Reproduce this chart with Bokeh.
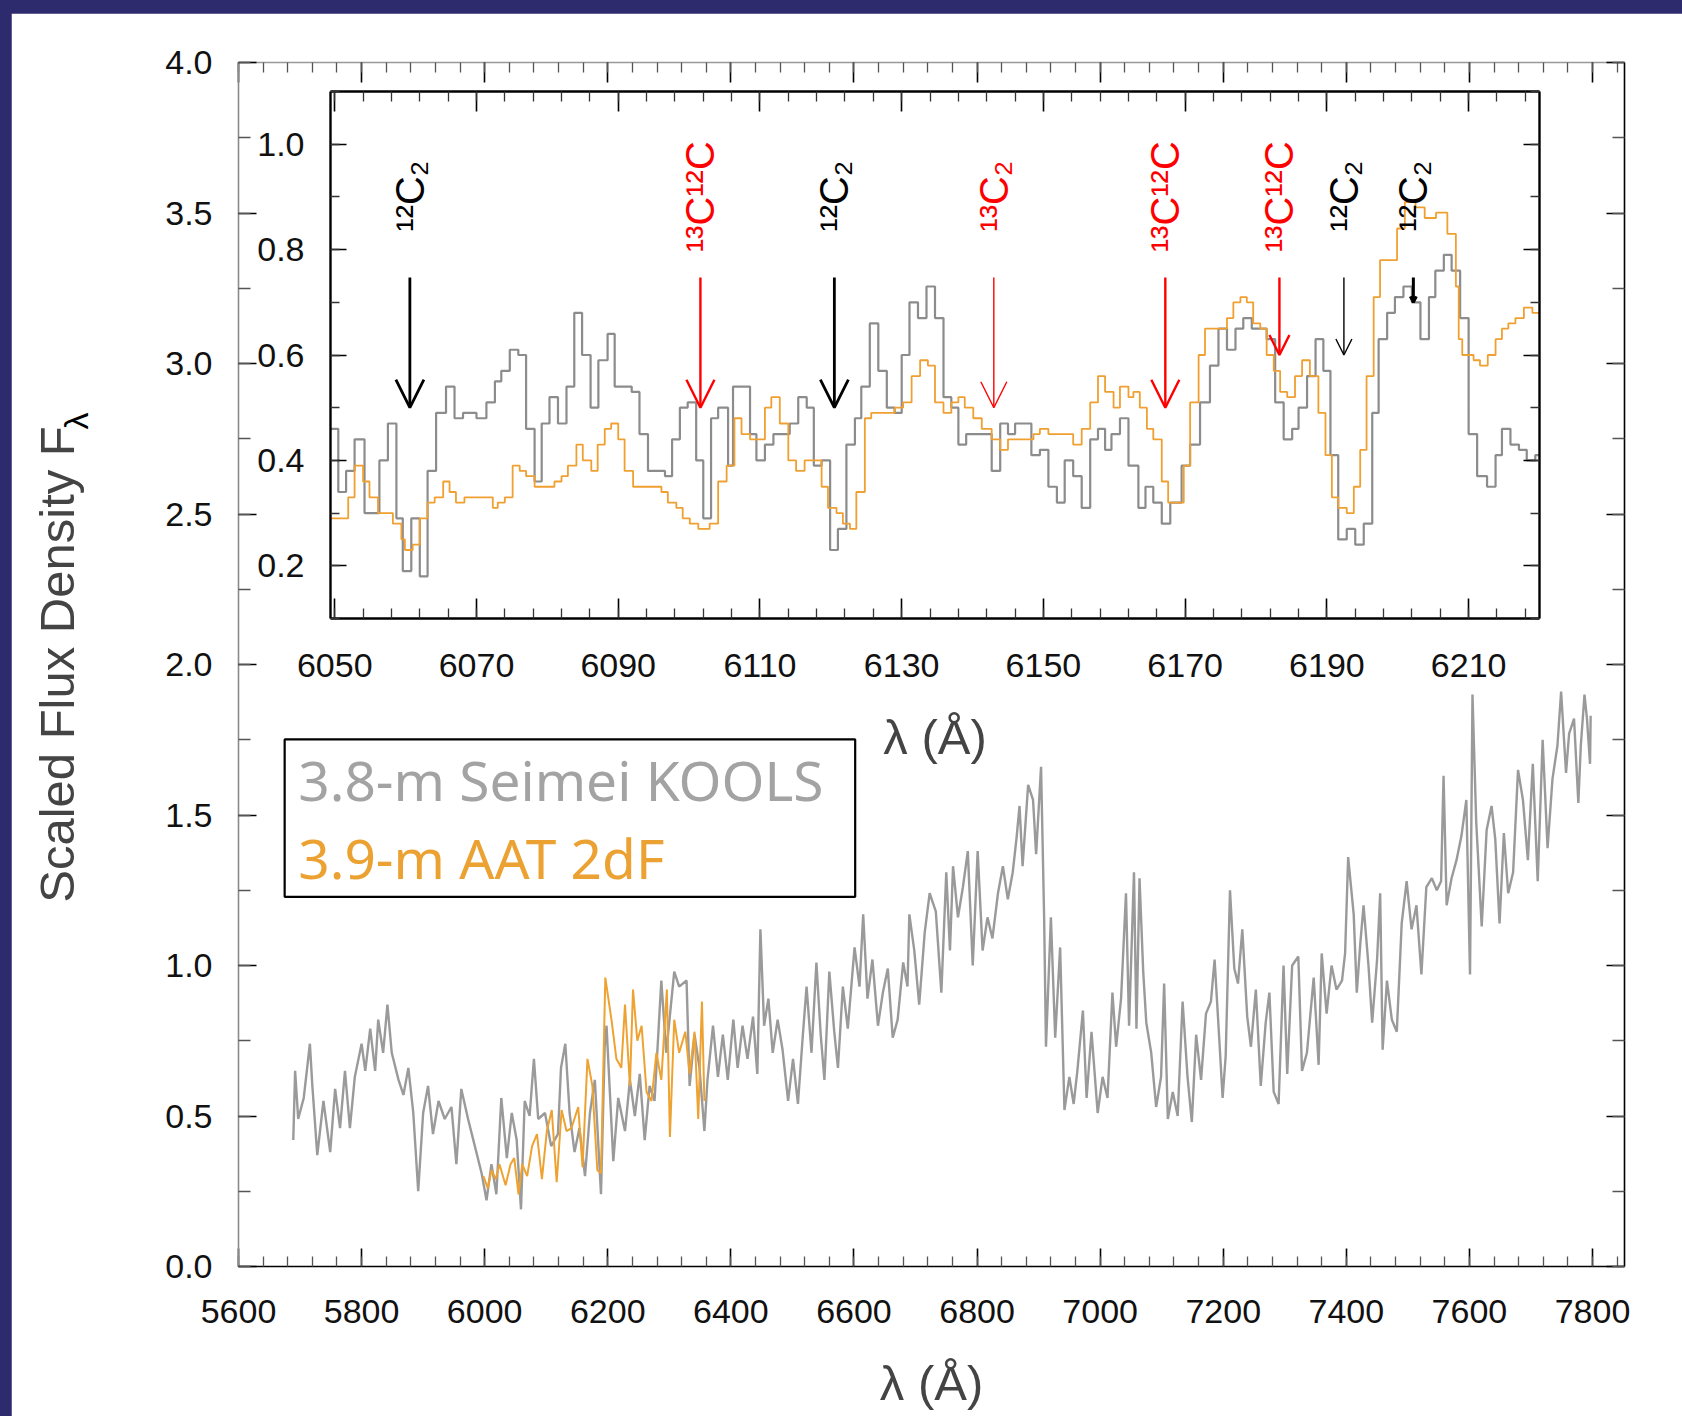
import math
from bokeh.plotting import figure
from bokeh.models import (Range1d, LinearAxis, SingleIntervalTicker, FixedTicker,
                          PrintfTickFormatter, BasicTickFormatter, Arrow, OpenHead, Label,
                          BoxAnnotation, ColumnDataSource, GlobalInlineStyleSheet,
                          CustomLabelingPolicy, Div)
from bokeh.layouts import column
from bokeh.core.properties import value
from bokeh.embed import file_html
from bokeh.resources import INLINE

NAVY = "#2e2a6e"
FONT = "Liberation Sans"
GRAY = "#9a9a9a"
ORANGE = "#eea232"

# ---------------- main panel data (wavelength in Angstrom, scaled flux) ----------------
kools_wl = [5689, 5692, 5697, 5706, 5716, 5720, 5728, 5738, 5749, 5757, 5765, 5773, 5781, 5789,
            5800, 5806, 5814, 5822, 5827, 5835, 5842, 5849, 5860, 5868, 5876, 5884, 5892, 5900,
            5908, 5916, 5925, 5935, 5946, 5954, 5962, 5973, 5984, 5995, 6003, 6011, 6019, 6027,
            6036, 6044, 6052, 6059, 6065, 6073, 6080, 6087, 6098, 6108, 6119, 6124, 6131, 6138,
            6146, 6154, 6163, 6171, 6179, 6189, 6195, 6198, 6209, 6217, 6228, 6236, 6244, 6252,
            6260, 6268, 6276, 6287, 6295, 6308, 6316, 6328, 6333, 6341, 6349, 6357, 6362, 6371,
            6379, 6387, 6395, 6404, 6411, 6419, 6427, 6436, 6443, 6448, 6454, 6461, 6468, 6476,
            6484, 6493, 6501, 6509, 6517, 6523, 6531, 6539, 6546, 6552, 6560, 6568, 6574, 6582,
            6590, 6601, 6609, 6615, 6622, 6630, 6639, 6647, 6655, 6663, 6671, 6680, 6687, 6690,
            6698, 6706, 6715, 6723, 6733, 6742, 6750, 6756, 6761, 6769, 6777, 6785, 6793, 6801,
            6809, 6817, 6825, 6834, 6842, 6850, 6858, 6864, 6869, 6874, 6883, 6891, 6896, 6904,
            6909, 6912, 6920, 6927, 6935, 6942, 6950, 6957, 6963, 6972, 6978, 6986, 6996, 7004,
            7012, 7020, 7026, 7034, 7042, 7047, 7055, 7059, 7064, 7070, 7075, 7083, 7091, 7099,
            7104, 7110, 7118, 7126, 7134, 7142, 7149, 7156, 7164, 7172, 7180, 7186, 7194, 7199,
            7204, 7211, 7218, 7224, 7231, 7239, 7245, 7253, 7261, 7269, 7275, 7282, 7290, 7298,
            7304, 7312, 7322, 7328, 7336, 7347, 7355, 7360, 7368, 7376, 7384, 7393, 7398, 7403,
            7412, 7417, 7423, 7428, 7436, 7442, 7450, 7455, 7459, 7466, 7474, 7482, 7490, 7498,
            7506, 7514, 7522, 7530, 7539, 7547, 7554, 7558, 7563, 7571, 7579, 7587, 7595, 7601,
            7605, 7611, 7620, 7628, 7636, 7642, 7649, 7656, 7663, 7671, 7679, 7687, 7695, 7703,
            7711, 7719, 7727, 7735, 7743, 7749, 7757, 7762, 7770, 7777, 7781, 7787, 7791, 7796,
            7797]
kools_flux = [0.42, 0.65, 0.49, 0.56, 0.74, 0.60, 0.37, 0.55, 0.38, 0.59, 0.46, 0.65, 0.46, 0.63,
              0.74, 0.65, 0.79, 0.65, 0.82, 0.71, 0.87, 0.71, 0.62, 0.57, 0.66, 0.51, 0.25, 0.51,
              0.60, 0.44, 0.55, 0.49, 0.53, 0.34, 0.59, 0.49, 0.40, 0.31, 0.22, 0.34, 0.24, 0.56,
              0.36, 0.51, 0.42, 0.19, 0.55, 0.50, 0.69, 0.49, 0.51, 0.40, 0.44, 0.66, 0.74, 0.51,
              0.38, 0.46, 0.30, 0.51, 0.62, 0.24, 0.73, 0.80, 0.35, 0.56, 0.45, 0.62, 0.50, 0.64,
              0.42, 0.60, 0.55, 0.95, 0.71, 0.98, 0.93, 0.95, 0.60, 0.77, 0.66, 0.45, 0.62, 0.80,
              0.63, 0.77, 0.62, 0.82, 0.66, 0.80, 0.69, 0.83, 0.64, 1.12, 0.80, 0.89, 0.71, 0.82,
              0.72, 0.55, 0.69, 0.54, 0.77, 0.93, 0.71, 1.01, 0.77, 0.62, 0.98, 0.78, 0.66, 0.93,
              0.79, 1.06, 0.93, 1.17, 0.89, 1.02, 0.80, 0.91, 0.99, 0.76, 0.82, 1.01, 0.93, 1.17,
              1.05, 0.87, 1.11, 1.24, 1.18, 0.91, 1.31, 1.05, 1.33, 1.16, 1.26, 1.38, 1.00, 1.38,
              1.05, 1.16, 1.09, 1.24, 1.33, 1.22, 1.31, 1.42, 1.53, 1.33, 1.60, 1.55, 1.37, 1.66,
              1.16, 0.73, 1.16, 0.76, 1.06, 0.52, 0.63, 0.54, 0.65, 0.85, 0.56, 0.78, 0.51, 0.63,
              0.56, 0.91, 0.73, 0.89, 1.24, 0.80, 1.31, 0.79, 1.29, 0.98, 0.81, 0.71, 0.53, 0.63,
              0.94, 0.49, 0.58, 0.50, 0.88, 0.63, 0.48, 0.77, 0.62, 0.84, 0.88, 1.02, 0.74, 0.56,
              0.70, 1.25, 0.99, 0.94, 1.12, 0.83, 0.73, 0.92, 0.60, 0.81, 0.91, 0.58, 0.54, 1.00,
              0.64, 1.00, 1.03, 0.65, 0.71, 0.96, 0.67, 1.04, 0.84, 1.00, 0.92, 0.95, 1.04, 1.36,
              1.17, 0.91, 1.08, 1.20, 1.00, 0.81, 1.02, 1.24, 0.72, 0.95, 0.82, 0.78, 1.14, 1.28,
              1.12, 1.20, 0.97, 1.26, 1.29, 1.25, 1.28, 1.63, 1.20, 1.29, 1.35, 1.43, 1.55, 0.97,
              1.90, 1.48, 1.13, 1.45, 1.53, 1.42, 1.14, 1.44, 1.24, 1.31, 1.65, 1.55, 1.35, 1.67,
              1.28, 1.75, 1.39, 1.62, 1.73, 1.91, 1.64, 1.77, 1.82, 1.54, 1.73, 1.90, 1.82, 1.67,
              1.83]

aat_wl = [5998, 6005, 6011, 6018, 6024, 6034, 6042, 6048, 6055, 6061, 6069, 6077, 6085, 6093,
          6101, 6109, 6117, 6125, 6133, 6141, 6152, 6159, 6167, 6175, 6183, 6189, 6196, 6206,
          6214, 6222, 6228, 6236, 6241, 6248, 6255, 6263, 6271, 6279, 6287, 6296, 6301, 6308,
          6316, 6326, 6333, 6341, 6347, 6353, 6357]
aat_flux = [0.30, 0.26, 0.32, 0.29, 0.34, 0.27, 0.34, 0.36, 0.24, 0.34, 0.30, 0.40, 0.44, 0.29,
            0.45, 0.52, 0.28, 0.52, 0.45, 0.46, 0.53, 0.33, 0.69, 0.60, 0.32, 0.31, 0.96, 0.82,
            0.69, 0.66, 0.87, 0.60, 0.92, 0.75, 0.80, 0.58, 0.55, 0.71, 0.62, 0.92, 0.43, 0.82,
            0.71, 0.78, 0.64, 0.78, 0.49, 0.88, 0.55]

# ---------------- inset data (step spectra, bin left edges) ----------------
inset_kools_wl = [6049.4, 6050.5, 6051.6, 6052.8, 6054.2, 6056.3, 6057.5, 6058.7, 6059.6, 6060.8,
                  6062.0, 6063.1, 6064.3, 6065.7, 6066.9, 6068.1, 6070.0, 6071.4, 6072.6, 6073.5,
                  6074.7, 6075.9, 6077.0, 6078.2, 6079.2, 6080.3, 6081.5, 6082.7, 6083.8, 6084.9,
                  6086.1, 6087.2, 6088.5, 6089.5, 6090.7, 6091.9, 6093.0, 6094.2, 6095.4, 6096.6,
                  6097.6, 6098.7, 6099.8, 6101.0, 6102.0, 6103.1, 6104.1, 6105.5, 6106.2, 6108.6,
                  6109.5, 6110.7, 6111.9, 6113.0, 6114.2, 6115.4, 6116.6, 6117.6, 6118.7, 6119.9,
                  6121.0, 6122.2, 6123.4, 6124.3, 6125.5, 6126.7, 6127.9, 6129.0, 6130.0, 6131.1,
                  6132.3, 6133.5, 6134.7, 6135.9, 6137.0, 6138.0, 6139.1, 6142.7, 6143.9, 6145.0,
                  6146.0, 6148.3, 6149.5, 6150.7, 6151.9, 6153.0, 6154.2, 6155.4, 6156.6, 6157.7,
                  6158.7, 6159.6, 6160.8, 6162.0, 6163.4, 6164.4, 6165.5, 6166.7, 6167.9, 6169.5,
                  6170.7, 6172.1, 6173.5, 6174.7, 6175.9, 6177.1, 6178.2, 6179.4, 6181.5, 6182.7,
                  6183.9, 6185.1, 6186.0, 6187.2, 6188.4, 6189.5, 6190.5, 6191.6, 6192.8, 6194.0,
                  6195.2, 6196.4, 6197.3, 6198.5, 6199.6, 6200.8, 6202.0, 6203.2, 6204.4, 6205.3,
                  6206.5, 6207.6, 6208.8, 6210.0, 6211.2, 6212.6, 6213.8, 6214.7, 6215.9, 6217.1,
                  6218.2, 6219.4, 6220.0]
inset_kools_flux = [0.46, 0.34, 0.38, 0.44, 0.30, 0.40, 0.47, 0.29, 0.19, 0.29,
                    0.18, 0.38, 0.49, 0.54, 0.48, 0.49, 0.48, 0.51, 0.55, 0.57,
                    0.61, 0.60, 0.46, 0.36, 0.47, 0.52, 0.47, 0.54, 0.68, 0.60,
                    0.50, 0.59, 0.64, 0.54, 0.54, 0.53, 0.45, 0.38, 0.38, 0.37,
                    0.44, 0.50, 0.51, 0.40, 0.29, 0.48, 0.50, 0.39, 0.54, 0.45,
                    0.40, 0.43, 0.45, 0.45, 0.47, 0.52, 0.50, 0.39, 0.40, 0.23,
                    0.27, 0.43, 0.48, 0.54, 0.66, 0.57, 0.50, 0.49, 0.60, 0.70,
                    0.67, 0.73, 0.67, 0.52, 0.50, 0.43, 0.45, 0.38, 0.47, 0.45,
                    0.47, 0.41, 0.42, 0.35, 0.32, 0.40, 0.37, 0.31, 0.44, 0.46,
                    0.42, 0.45, 0.48, 0.39, 0.31, 0.35, 0.32, 0.28, 0.32, 0.39,
                    0.43, 0.51, 0.58, 0.65, 0.61, 0.65, 0.67, 0.65, 0.63, 0.51,
                    0.44, 0.46, 0.50, 0.56, 0.63, 0.57, 0.41, 0.25, 0.27, 0.24,
                    0.28, 0.49, 0.63, 0.68, 0.71, 0.73, 0.70, 0.63, 0.71, 0.76,
                    0.79, 0.76, 0.67, 0.45, 0.37, 0.35, 0.41, 0.46, 0.43, 0.42,
                    0.40, 0.41, 0.41]

inset_aat_wl = [6049.4, 6051.9, 6052.8, 6054.0, 6054.9, 6056.1, 6058.2, 6059.4, 6059.9, 6061.0,
                6062.0, 6063.1, 6064.1, 6065.3, 6066.2, 6067.1, 6068.3, 6072.3, 6073.0, 6074.0,
                6075.1, 6076.1, 6077.0, 6078.2, 6081.0, 6082.0, 6082.9, 6084.1, 6085.0, 6086.2,
                6087.1, 6088.1, 6089.0, 6090.0, 6090.9, 6092.1, 6096.1, 6097.0, 6098.2, 6099.1,
                6100.1, 6101.3, 6102.9, 6104.1, 6105.3, 6106.4, 6107.4, 6108.6, 6110.7, 6111.6,
                6112.8, 6114.0, 6115.1, 6116.3, 6118.7, 6119.6, 6120.8, 6121.7, 6122.7, 6123.6,
                6124.8, 6125.7, 6129.0, 6130.2, 6131.4, 6132.6, 6133.7, 6134.7, 6135.9, 6137.0,
                6138.0, 6138.9, 6140.1, 6141.3, 6142.7, 6143.9, 6145.0, 6147.4, 6148.6, 6149.5,
                6150.7, 6153.0, 6154.2, 6155.4, 6156.6, 6157.7, 6158.7, 6159.9, 6160.8, 6162.0,
                6162.7, 6163.6, 6164.6, 6165.5, 6166.7, 6167.6, 6169.8, 6170.7, 6171.9, 6172.8,
                6175.9, 6176.8, 6177.8, 6178.7, 6179.6, 6180.6, 6181.5, 6182.5, 6183.4, 6184.4,
                6185.5, 6186.5, 6187.6, 6188.8, 6189.8, 6190.7, 6191.6, 6192.8, 6193.8, 6194.7,
                6195.6, 6196.6, 6197.5, 6198.7, 6199.9, 6201.0, 6202.5, 6203.8, 6205.4, 6207.0,
                6208.2, 6208.6, 6209.1, 6210.7, 6211.6, 6212.7, 6213.8, 6214.7, 6215.6, 6216.6,
                6217.8, 6219.0, 6220.0]
inset_aat_flux = [0.29, 0.33, 0.39, 0.36, 0.33, 0.30, 0.28, 0.25, 0.23, 0.24,
                  0.29, 0.32, 0.33, 0.36, 0.34, 0.32, 0.33, 0.31, 0.32, 0.33,
                  0.39, 0.38, 0.37, 0.35, 0.36, 0.37, 0.39, 0.43, 0.40, 0.38,
                  0.43, 0.46, 0.47, 0.44, 0.38, 0.35, 0.34, 0.32, 0.31, 0.29,
                  0.28, 0.27, 0.28, 0.36, 0.39, 0.48, 0.45, 0.44, 0.50, 0.52,
                  0.47, 0.40, 0.38, 0.40, 0.35, 0.31, 0.30, 0.28, 0.27, 0.34,
                  0.48, 0.49, 0.50, 0.51, 0.56, 0.59, 0.58, 0.51, 0.49, 0.51,
                  0.52, 0.50, 0.48, 0.46, 0.44, 0.42, 0.44, 0.44, 0.45, 0.46,
                  0.45, 0.45, 0.43, 0.46, 0.51, 0.56, 0.53, 0.50, 0.54, 0.52,
                  0.53, 0.50, 0.46, 0.44, 0.36, 0.32, 0.39, 0.51, 0.60, 0.65,
                  0.67, 0.70, 0.71, 0.70, 0.66, 0.65, 0.60, 0.57, 0.53, 0.52,
                  0.56, 0.59, 0.56, 0.49, 0.41, 0.33, 0.31, 0.30, 0.35, 0.42,
                  0.56, 0.71, 0.78, 0.78, 0.84, 0.89, 0.88, 0.86, 0.87, 0.83,
                  0.73, 0.63, 0.60, 0.59, 0.58, 0.60, 0.63, 0.65, 0.66, 0.67,
                  0.69, 0.68, 0.68]

# molecular band identifications in the inset
line_wl = [6060.6, 6101.6, 6120.5, 6143.0, 6167.2, 6183.3, 6192.4, 6202.2]
line_labels = ["¹²C₂", "¹³C¹²C", "¹²C₂", "¹³C₂", "¹³C¹²C", "¹³C¹²C", "¹²C₂", "¹²C₂"]
line_colors = ["black", "red", "black", "red", "red", "red", "black", "black"]
arrow_top = [0.747, 0.747, 0.747, 0.747, 0.747, 0.747, 0.747, 0.747]
arrow_tip = [0.50, 0.50, 0.50, 0.50, 0.50, 0.60, 0.60, 0.70]
label_base = [0.834, 0.795, 0.834, 0.834, 0.795, 0.795, 0.834, 0.834]

# tick definitions
main_x_interval = 200
main_y_interval = 0.5
inset_x_ticks = [6050, 6070, 6090, 6110, 6130, 6150, 6170, 6190, 6210]
inset_x_minor = [6050 + 4 * k for k in range(43)]
inset_y_interval = 0.2

legend_texts = ["3.8-m Seimei KOOLS", "3.9-m AAT 2dF"]
legend_colors = ["#a3a3a3", "#eba232"]

TICK_FS = "34px"
LABEL_FS = "49px"


def axis(ticker, formatter=None, labels=True, tick_in=18, minor_in=10, line_color="black",
         tick_color="black", minor_color="#555555", standoff=26, line_width=1.6, **kw):
    ax = LinearAxis(ticker=ticker, major_tick_in=tick_in, major_tick_out=0,
                    minor_tick_in=minor_in, minor_tick_out=0,
                    axis_line_color=line_color, axis_line_width=line_width,
                    major_tick_line_color=tick_color, major_tick_line_width=1.6,
                    minor_tick_line_color=minor_color, minor_tick_line_width=1.3,
                    major_label_text_font=FONT,
                    major_label_text_font_size=TICK_FS if labels else "1px",
                    major_label_standoff=standoff if labels else 0,
                    major_label_text_color="#111111", **kw)
    if not labels:
        ax.major_label_policy = CustomLabelingPolicy(code="return new Set()")
    if formatter is not None:
        ax.formatter = formatter
    return ax


# ---------------- main figure ----------------
main = figure(output_backend="svg", toolbar_location=None,
              frame_width=1386, frame_height=1204,
              min_border_left=227, min_border_right=58, min_border_top=49, min_border_bottom=150,
              x_range=Range1d(5600, 7852), y_range=Range1d(0, 4.0),
              x_axis_location=None, y_axis_location=None, margin=(13, 0, 0, 11))
main.border_fill_color = "white"
main.background_fill_color = "white"
main.outline_line_color = None
main.grid.grid_line_color = None

main.add_layout(axis(SingleIntervalTicker(interval=main_x_interval, num_minor_ticks=5),
                     BasicTickFormatter(use_scientific=False), standoff=33,
                     axis_label="λ (Å)", axis_label_text_font=FONT,
                     axis_label_text_font_size=LABEL_FS, axis_label_text_font_style="normal",
                     axis_label_standoff=30), "below")
main.add_layout(axis(SingleIntervalTicker(interval=main_x_interval, num_minor_ticks=5),
                     labels=False, tick_in=20, line_color="#999999"), "above")
main.add_layout(axis(SingleIntervalTicker(interval=main_y_interval, num_minor_ticks=2),
                     PrintfTickFormatter(format="%.1f"), line_color="#8a8a8a", minor_in=12,
                     axis_label="Scaled Flux Density F", axis_label_text_font=FONT,
                     axis_label_text_font_size=LABEL_FS, axis_label_text_font_style="normal",
                     axis_label_standoff=78), "left")
main.add_layout(axis(SingleIntervalTicker(interval=main_y_interval, num_minor_ticks=2),
                     labels=False, minor_in=12), "right")

main.line(kools_wl, kools_flux, line_color=GRAY, line_width=2.4)
main.line(aat_wl, aat_flux, line_color=ORANGE, line_width=2.0)

# legend box with coloured texts
main.add_layout(BoxAnnotation(left=5675, right=6602, bottom=1.228, top=1.751,
                              fill_alpha=0, line_color="black", line_alpha=1.0, line_width=2.2))
for txt, col, yy in zip(legend_texts, legend_colors, [1.618, 1.358]):
    main.add_layout(Label(x=5697, y=yy, text=txt, text_color=col, text_font="Noto Sans",
                          text_font_size="55px", text_align="left", text_baseline="middle"))

# ---------------- inset figure (overlaid on the main panel) ----------------
inset = figure(output_backend="svg", toolbar_location=None,
               frame_width=1209, frame_height=527,
               min_border_left=227, min_border_right=10, min_border_top=10, min_border_bottom=160,
               x_range=Range1d(6049.4, 6220), y_range=Range1d(0.1, 1.1),
               x_axis_location=None, y_axis_location=None, margin=(-1335, 0, 0, 103))
inset.border_fill_color = None
inset.background_fill_color = None
inset.outline_line_color = None
inset.grid.grid_line_color = None

inset.add_layout(axis(FixedTicker(ticks=inset_x_ticks, minor_ticks=inset_x_minor),
                      BasicTickFormatter(use_scientific=False), standoff=35, tick_in=20,
                      minor_in=10, line_width=2.4, minor_color="#333333",
                      axis_label="λ (Å)", axis_label_text_font=FONT,
                      axis_label_text_font_size=LABEL_FS, axis_label_text_font_style="normal",
                      axis_label_standoff=30), "below")
inset.add_layout(axis(FixedTicker(ticks=inset_x_ticks, minor_ticks=inset_x_minor),
                      labels=False, tick_in=20, minor_in=10, line_width=2.4,
                      minor_color="#333333"), "above")
inset.add_layout(axis(SingleIntervalTicker(interval=inset_y_interval, num_minor_ticks=2),
                      PrintfTickFormatter(format="%.1f"), tick_in=16, minor_in=9,
                      line_width=2.4, minor_color="#333333", standoff=26), "left")
inset.add_layout(axis(SingleIntervalTicker(interval=inset_y_interval, num_minor_ticks=2),
                      labels=False, tick_in=16, minor_in=9, line_width=2.4,
                      minor_color="#333333"), "right")

inset.step(inset_kools_wl, inset_kools_flux, mode="after", line_color="#8c8c8c", line_width=2.2)
inset.step(inset_aat_wl, inset_aat_flux, mode="after", line_color="#f0a030", line_width=1.8)

head_sizes = [28, 28, 28, 26, 28, 20, 16, 6]
arrow_widths = [2.8, 2.4, 2.8, 1.4, 2.4, 2.4, 1.4, 3.0]
for wl, top, tip, col, hs, lw in zip(line_wl, arrow_top, arrow_tip, line_colors, head_sizes, arrow_widths):
    inset.add_layout(Arrow(end=OpenHead(size=hs, line_color=col, line_width=lw),
                           x_start=wl, y_start=top, x_end=wl, y_end=tip,
                           line_color=col, line_width=lw))

lab_src = ColumnDataSource(dict(x=line_wl, y=label_base, text=line_labels, color=line_colors))
inset.text(x="x", y="y", text="text", text_color="color", source=lab_src, angle=math.pi / 2,
           text_font=value(FONT), text_font_size="40px", text_align="left",
           text_baseline="middle")

# subscript lambda of the y-axis title (F_lambda)
sub_lambda = Div(text="λ", width=40, height=40, margin=(-377, 0, 0, 56),
                 styles={"transform": "rotate(-90deg)", "font-size": "34px",
                         "font-family": FONT, "color": "black", "line-height": "40px",
                         "text-align": "center"})

page = column(main, inset, sub_lambda, stylesheets=[GlobalInlineStyleSheet(
    css="html, body { margin: 0; padding: 0; background: %s; overflow: hidden; }" % NAVY)])

open("out.html", "w").write(file_html(page, INLINE))
